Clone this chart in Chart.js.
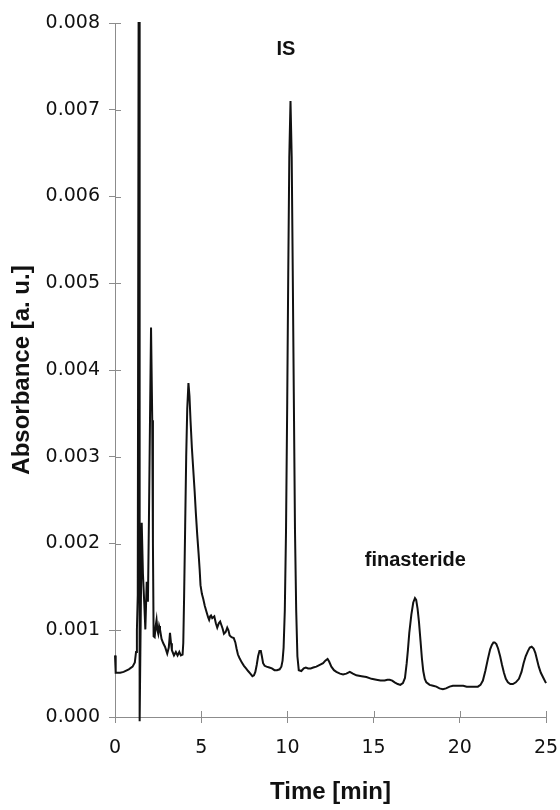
<!DOCTYPE html>
<html>
<head>
<meta charset="utf-8">
<script src="https://cdn.jsdelivr.net/npm/chart.js@4/dist/chart.umd.min.js"></script>
<style>
  html, body { margin: 0; padding: 0; background: #fff; }
  #wrap { width: 560px; height: 810px; }
</style>
</head>
<body>
<div id="wrap"><canvas id="chrom" width="560" height="810"></canvas></div>
<script>
// retention time [min]
const timeMin = [
  0.00, 0.04, 0.30, 0.50, 0.80, 1.02, 1.15, 1.22, 1.27, 1.32, 1.37, 1.41, 1.43, 1.55, 1.62, 1.70, 1.76, 1.84, 1.91,
  1.97, 2.03, 2.09, 2.16, 2.20, 2.24, 2.30, 2.36, 2.41, 2.46, 2.51, 2.56, 2.61, 2.70, 2.80, 2.90, 3.03, 3.12,
  3.19, 3.25, 3.30, 3.42, 3.53, 3.63, 3.73, 3.82, 3.92, 3.96, 4.01, 4.07, 4.13, 4.19, 4.26, 4.32, 4.38, 4.46,
  4.54, 4.62, 4.69, 4.77, 4.85, 4.91, 4.96, 5.04, 5.12, 5.21, 5.31, 5.40, 5.46, 5.52, 5.57, 5.64, 5.70, 5.76,
  5.85, 5.93, 6.02, 6.10, 6.17, 6.24, 6.32, 6.42, 6.51, 6.58, 6.65, 6.76, 6.89, 6.98, 7.05, 7.13, 7.22, 7.35,
  7.48, 7.60, 7.72, 7.85, 7.97, 8.06, 8.14, 8.22, 8.30, 8.38, 8.46, 8.52, 8.59, 8.68, 8.79, 8.95, 9.10, 9.25,
  9.40, 9.55, 9.65, 9.72, 9.78, 9.85, 9.92, 9.99, 10.05, 10.11, 10.18, 10.25, 10.31, 10.37, 10.44, 10.51, 10.58,
  10.66, 10.81, 10.95, 11.07, 11.20, 11.35, 11.50, 11.68, 11.88, 12.07, 12.20, 12.33, 12.42, 12.55, 12.70, 12.84,
  13.05, 13.23, 13.42, 13.62, 13.80, 14.00, 14.30, 14.58, 14.88, 15.16, 15.40, 15.64, 15.80, 15.93, 16.08, 16.22,
  16.40, 16.55, 16.70, 16.82, 16.92, 16.99, 17.07, 17.19, 17.30, 17.40, 17.47, 17.55, 17.63, 17.72, 17.80, 17.88,
  17.97, 18.06, 18.25, 18.45, 18.64, 18.82, 19.02, 19.20, 19.41, 19.60, 19.80, 19.99, 20.20, 20.40, 20.57, 20.80,
  21.05, 21.20, 21.34, 21.48, 21.63, 21.76, 21.86, 21.95, 22.02, 22.12, 22.22, 22.34, 22.45, 22.56, 22.67, 22.79,
  22.93, 23.08, 23.25, 23.43, 23.58, 23.70, 23.82, 23.95, 24.06, 24.17, 24.28, 24.38, 24.48, 24.58, 24.70, 24.85,
  25.00
];

// absorbance, in units of 0.001 a.u.
const absorbanceMilli = [
  0.71, 0.51, 0.51, 0.52, 0.55, 0.58, 0.63, 0.75, 1.00, 1.40, 8.15, 8.15, -0.05, 2.24, 1.65, 1.30, 1.01, 1.56, 1.33,
  2.30, 3.42, 4.49, 3.42, 2.00, 0.93, 0.92, 1.05, 1.12, 1.00, 0.96, 1.05, 1.01, 0.90, 0.85, 0.81, 0.73, 0.80,
  0.97, 0.85, 0.77, 0.71, 0.75, 0.71, 0.75, 0.71, 0.72, 0.85, 1.40, 2.20, 3.00, 3.55, 3.85, 3.70, 3.42, 3.10,
  2.85, 2.60, 2.35, 2.10, 1.88, 1.70, 1.52, 1.42, 1.36, 1.28, 1.21, 1.15, 1.12, 1.16, 1.17, 1.14, 1.15, 1.16,
  1.08, 1.03, 1.08, 1.10, 1.06, 1.02, 0.96, 0.98, 1.03, 1.00, 0.94, 0.92, 0.91, 0.86, 0.79, 0.72, 0.68, 0.63,
  0.59, 0.56, 0.53, 0.50, 0.47, 0.48, 0.52, 0.60, 0.70, 0.76, 0.76, 0.70, 0.62, 0.59, 0.58, 0.57, 0.56, 0.54,
  0.54, 0.55, 0.58, 0.65, 0.80, 1.23, 2.15, 3.63, 5.14, 6.45, 7.10, 6.45, 5.14, 3.75, 2.15, 1.23, 0.70,
  0.54, 0.53, 0.56, 0.57, 0.56, 0.56, 0.57, 0.58, 0.60, 0.62, 0.65, 0.67, 0.64, 0.58, 0.54, 0.52,
  0.50, 0.49, 0.50, 0.52, 0.50, 0.48, 0.47, 0.46, 0.44, 0.43, 0.42, 0.42, 0.43, 0.43, 0.42, 0.40,
  0.38, 0.37, 0.39, 0.45, 0.62, 0.77, 0.97, 1.18, 1.32, 1.37, 1.35, 1.25, 1.10, 0.88, 0.68, 0.53,
  0.44, 0.40, 0.37, 0.36, 0.35, 0.33, 0.32, 0.33, 0.35, 0.36, 0.36, 0.36, 0.36, 0.35, 0.35, 0.35,
  0.35, 0.37, 0.42, 0.53, 0.67, 0.78, 0.83, 0.86, 0.86, 0.84, 0.79, 0.70, 0.60, 0.51, 0.44, 0.40,
  0.38, 0.38, 0.40, 0.44, 0.52, 0.62, 0.70, 0.76, 0.80, 0.81, 0.79, 0.74, 0.66, 0.58, 0.51, 0.45,
  0.39
];

const xTicks = [0, 5, 10, 15, 20, 25];
const yTicks = [0, 0.001, 0.002, 0.003, 0.004, 0.005, 0.006, 0.007, 0.008];
const peakLabels = ['IS', 'finasteride'];

const AXIS_GREY = '#8c8c8c';
const tickFont = { family: '"DejaVu Sans", Verdana, sans-serif', size: 19 };
const titleFont = { family: '"Liberation Sans", Arial, sans-serif', size: 24, weight: 'bold' };

const points = timeMin.map((t, i) => ({ x: t, y: absorbanceMilli[i] / 1000 }));

// ticks in the original cross the axis line, so draw the inner half too
const innerTicks = {
  id: 'innerTicks',
  afterDraw(chart) {
    const { ctx, chartArea, scales } = chart;
    ctx.save();
    ctx.strokeStyle = AXIS_GREY;
    ctx.lineWidth = 1;
    ctx.beginPath();
    yTicks.forEach(v => {
      const py = Math.round(scales.y.getPixelForValue(v)) + 0.5;
      ctx.moveTo(chartArea.left, py);
      ctx.lineTo(chartArea.left + 6, py);
    });
    xTicks.forEach(v => {
      const px = Math.round(scales.x.getPixelForValue(v)) + 0.5;
      ctx.moveTo(px, chartArea.bottom);
      ctx.lineTo(px, chartArea.bottom - 6);
    });
    ctx.stroke();
    ctx.restore();
  }
};

const peakNames = {
  id: 'peakNames',
  afterDatasetsDraw(chart) {
    const { ctx, scales } = chart;
    ctx.save();
    ctx.fillStyle = '#111';
    ctx.font = 'bold 20px "Liberation Sans", Arial, sans-serif';
    ctx.textAlign = 'center';
    ctx.textBaseline = 'middle';
    ctx.fillText(peakLabels[0], scales.x.getPixelForValue(9.91), scales.y.getPixelForValue(0.00769));
    ctx.fillText(peakLabels[1], scales.x.getPixelForValue(17.42), scales.y.getPixelForValue(0.00180));
    ctx.restore();
  }
};

new Chart(document.getElementById('chrom'), {
  type: 'scatter',
  data: {
    datasets: [{
      data: points,
      showLine: true,
      borderColor: '#111',
      borderWidth: 2,
      pointRadius: 0,
      tension: 0,
      clip: { left: 2, top: 1, right: 2, bottom: 5 }
    }]
  },
  options: {
    responsive: false,
    animation: false,
    events: [],
    layout: { padding: { top: 23, right: 14, bottom: 0, left: 0 } },
    plugins: { legend: { display: false }, tooltip: { enabled: false } },
    scales: {
      x: {
        type: 'linear',
        min: 0, max: 25,
        afterFit: s => { s.height = 93; s.paddingLeft = 0; s.paddingRight = 0; },
        afterBuildTicks: s => { s.ticks = xTicks.map(v => ({ value: v })); },
        border: { display: true, color: AXIS_GREY, width: 1 },
        grid: { drawOnChartArea: false, drawTicks: true, tickLength: 6, color: AXIS_GREY },
        ticks: { color: '#111', font: tickFont, padding: 14, maxRotation: 0 },
        title: { display: true, text: 'Time [min]', color: '#111', font: titleFont, padding: { top: 0, bottom: 3 } }
      },
      y: {
        type: 'linear',
        min: 0, max: 0.008,
        afterFit: s => { s.width = 115; s.paddingTop = 0; s.paddingBottom = 0; },
        afterBuildTicks: s => { s.ticks = yTicks.map(v => ({ value: v })); },
        border: { display: true, color: AXIS_GREY, width: 1 },
        grid: { drawOnChartArea: false, drawTicks: true, tickLength: 6, color: AXIS_GREY },
        ticks: { color: '#111', font: tickFont, padding: 9, callback: v => Number(v).toFixed(3) },
        title: { display: true, text: 'Absorbance [a. u.]', color: '#111', font: titleFont, padding: { top: 8, bottom: 0 } }
      }
    }
  },
  plugins: [innerTicks, peakNames]
});
</script>
</body>
</html>
